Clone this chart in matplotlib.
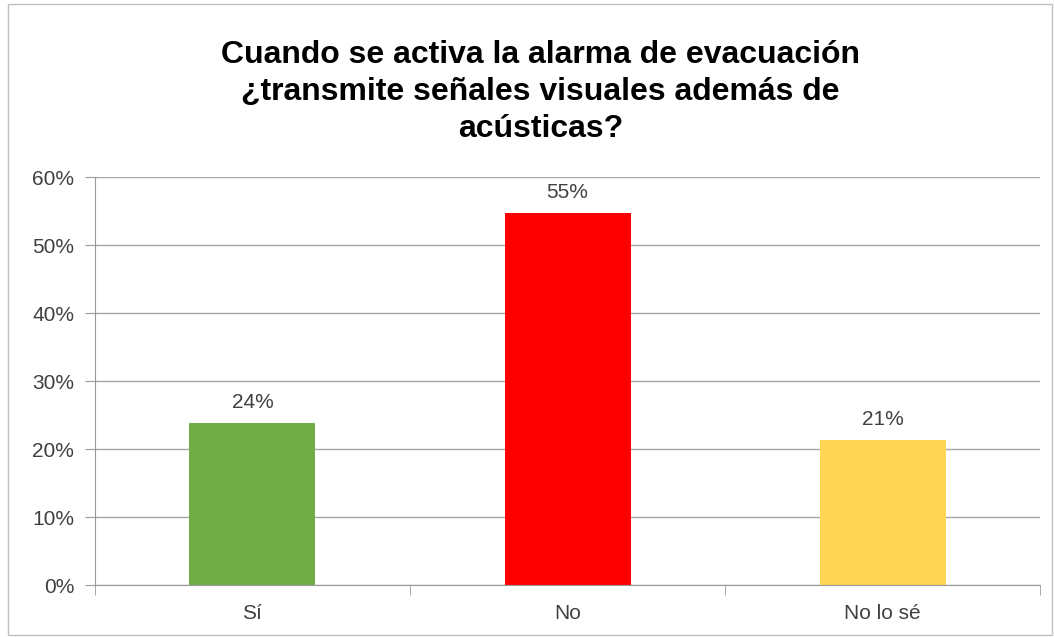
import matplotlib.pyplot as plt
import matplotlib.patches as mpatches
from matplotlib.ticker import PercentFormatter, FixedLocator

categories = ["Sí", "No", "No lo sé"]
values = [23.8, 54.7, 21.4]
labels = ["24%", "55%", "21%"]
colors = ["#70AD47", "#FF0000", "#FFD555"]
title = "Cuando se activa la alarma de evacuación\n¿transmite señales visuales además de\nacústicas?"

plt.rcParams["font.family"] = ["Liberation Sans", "DejaVu Sans"]

fig = plt.figure(figsize=(10.54, 6.37), dpi=100)
ax = fig.add_axes([0.090, 0.0816, 0.897, 0.6404])

x = range(len(categories))
ax.bar(x, values, width=0.4, color=colors, zorder=2)
for xi, v, lab in zip(x, values, labels):
    ax.text(xi, v + 1.6, lab, ha="center", va="bottom", fontsize=15, color="#404040")

ax.set_xlim(-0.5, 2.5)
ax.set_ylim(0, 60)
ax.set_yticks(range(0, 61, 10))
ax.yaxis.set_major_formatter(PercentFormatter(decimals=0))
ax.set_xticks(list(x))
ax.set_xticklabels(categories)
ax.xaxis.set_minor_locator(FixedLocator([-0.5, 0.5, 1.5, 2.5]))
ax.tick_params(axis="x", which="major", length=0, pad=14, labelsize=15, labelcolor="#404040")
ax.tick_params(axis="x", which="minor", length=7, color="#9a9a9a")
ax.tick_params(axis="y", length=7, color="#9a9a9a", labelsize=15, labelcolor="#404040", pad=8)
ax.grid(axis="y", color="#a6a6a6", lw=1, zorder=0)
for s in ["top", "right"]:
    ax.spines[s].set_visible(False)
for s in ["left", "bottom"]:
    ax.spines[s].set_color("#9a9a9a")

fig.text(0.513, 0.937, title, ha="center", va="top", fontsize=23,
         fontweight="bold", linespacing=1.3)

fig.patches.append(mpatches.Rectangle((0.008, 0.003), 0.99, 0.99, transform=fig.transFigure,
                                      fill=False, edgecolor="#bfbfbf", lw=1))

fig.savefig("out.png", dpi=100)
